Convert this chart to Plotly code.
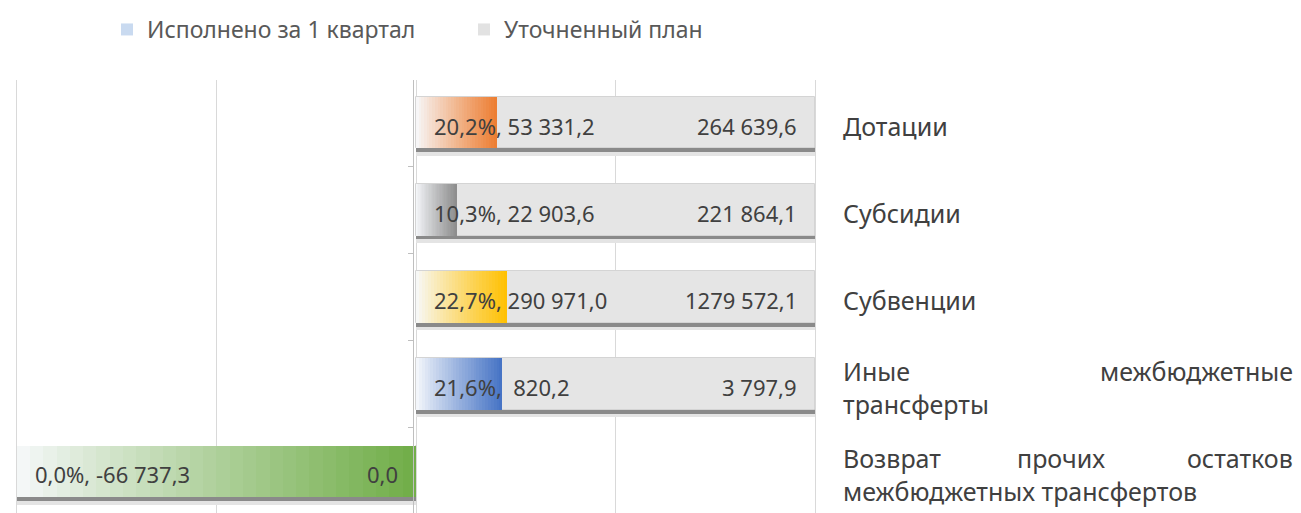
import plotly.graph_objects as go

# ---------------- data ----------------
categories = [
    ["Дотации"],
    ["Субсидии"],
    ["Субвенции"],
    ["Иные межбюджетные", "трансферты"],
    ["Возврат прочих остатков", "межбюджетных трансфертов"],
]
exec_share = [20.2, 10.3, 22.7, 21.6, -100.0]      # bar length, % of plan
plan_share = [100.0, 100.0, 100.0, 100.0, 0.0]
exec_pct_labels = ["20,2%", "10,3%", "22,7%", "21,6%", "0,0%"]
exec_amounts = ["53 331,2", "22 903,6", "290 971,0", " 820,2", "-66 737,3"]
plan_amounts = ["264 639,6", "221 864,1", "1279 572,1", "3 797,9", "0,0"]
bar_colors = ["#ED7D31", "#8C8C8C", "#FFC000", "#4472C4", "#70AD47"]
legend_names = ["Исполнено за 1 квартал", "Уточненный план"]

# ---------------- layout constants ----------------
OFF = 8                      # page body margin
W, H = 1301 - OFF, 513 - OFF

def rx(p):                   # reference pixel -> figure pixel
    return p - OFF

ML = rx(15)
MT = rx(76)
MR = W - rx(817)
MB = 0
PW = W - ML - MR
PH = H - MT - MB
CAT_PX = 88.0
FONT = "Noto Sans"
TXT = "#404040"

def xp(p):                   # reference pixel -> paper x
    return (rx(p) - ML) / PW

ypos = list(range(len(categories)))
y_top = -(rx(119) - MT) / CAT_PX
y_bot = y_top + PH / CAT_PX
BW = 0.59
LBL_SHIFT = -3               # text sits slightly below bar centre

def hex2rgb(h):
    h = h.lstrip("#")
    return tuple(int(h[i:i + 2], 16) for i in (0, 2, 4))

def mix(c1, c2, t):
    a, b = hex2rgb(c1), hex2rgb(c2)
    return "rgb(%d,%d,%d)" % tuple(round(a[i] + (b[i] - a[i]) * t) for i in range(3))

fig = go.Figure()

# shadows under bars
lo = [min(0, e, p) for e, p in zip(exec_share, plan_share)]
hi = [max(0, e, p) for e, p in zip(exec_share, plan_share)]
for col, shift in (("#e4e4e4", 7.5), ("#8a8a8a", 4.0)):
    fig.add_trace(go.Bar(
        y=ypos, x=[h - l for l, h in zip(lo, hi)], base=lo, orientation="h",
        width=BW, offset=-BW / 2 + shift / CAT_PX,
        marker=dict(color=col, line=dict(width=0)),
        showlegend=False, hoverinfo="skip"))

# plan bars
fig.add_trace(go.Bar(
    y=ypos, x=plan_share, orientation="h", width=BW, offset=-BW / 2,
    marker=dict(color="#E5E5E5", line=dict(color="#D4D4D4", width=1)),
    name=legend_names[1], showlegend=False, hoverinfo="skip"))

# executed bars as gradient segments
N = 30
seg_y, seg_x, seg_base, seg_col = [], [], [], []
for i, v in enumerate(exec_share):
    start = min(0, v)
    w = abs(v) / N
    for k in range(N):
        t = ((k + 0.5) / N) ** 0.9
        seg_y.append(i)
        seg_x.append(w * 1.02)
        seg_base.append(start + k * w)
        seg_col.append(mix("#F7F9FC", bar_colors[i], t))
fig.add_trace(go.Bar(
    y=seg_y, x=seg_x, base=seg_base, orientation="h", width=BW, offset=-BW / 2,
    marker=dict(color=seg_col, line=dict(width=0)),
    showlegend=False, hoverinfo="skip"))

# legend entries
fig.add_trace(go.Bar(y=[None], x=[None], orientation="h", name=legend_names[0],
                     marker=dict(color="#C9DAF0", line=dict(width=0))))
fig.add_trace(go.Bar(y=[None], x=[None], orientation="h", name=legend_names[1],
                     marker=dict(color="#E2E2E2", line=dict(width=0))))

VFS = 22
annotations = []
# value labels
for i in range(len(categories)):
    annotations.append(dict(
        x=min(0, exec_share[i]), y=i, xref="x", yref="y",
        text=f"{exec_pct_labels[i]}, {exec_amounts[i]}".replace("  ", "\u00a0\u00a0"),
        xanchor="left", yanchor="middle", xshift=16, yshift=LBL_SHIFT, showarrow=False,
        font=dict(family=FONT, size=VFS, color=TXT)))
    annotations.append(dict(
        x=plan_share[i], y=i, xref="x", yref="y", text=plan_amounts[i],
        xanchor="right", yanchor="middle", xshift=-16, yshift=LBL_SHIFT, showarrow=False,
        font=dict(family=FONT, size=VFS, color=TXT)))

# category labels (justified on the right)
CL, CR = 841, 1295
CFS = 25
LINE = 33
for i, lines in enumerate(categories):
    n = len(lines)
    for j, line in enumerate(lines):
        yshift = LBL_SHIFT - ((j - (n - 1) / 2) * LINE)
        words = line.split(" ")
        if n > 1 and j < n - 1 and len(words) > 1:
            est = [len(wd) * CFS * 0.6 for wd in words]
            gap = (CR - CL - sum(est)) / (len(words) - 1)
            xcur = CL
            for k, wd in enumerate(words):
                if k == 0:
                    xx, anc = CL, "left"
                elif k == len(words) - 1:
                    xx, anc = CR, "right"
                else:
                    xx, anc = xcur + est[k] / 2, "center"
                xcur += est[k] + gap
                annotations.append(dict(
                    x=xp(xx), y=i, xref="paper", yref="y", text=wd,
                    xanchor=anc, yanchor="middle", yshift=yshift, showarrow=False,
                    font=dict(family=FONT, size=CFS, color=TXT)))
        else:
            annotations.append(dict(
                x=xp(CL), y=i, xref="paper", yref="y", text=line,
                xanchor="left", yanchor="middle", yshift=yshift, showarrow=False,
                font=dict(family=FONT, size=CFS, color=TXT)))

fig.update_layout(
    width=W, height=H,
    margin=dict(l=ML, r=MR, t=MT, b=MB, pad=0),
    paper_bgcolor="white", plot_bgcolor="white",
    barmode="overlay", bargap=0,
    font=dict(family=FONT, color=TXT),
    showlegend=True,
    legend=dict(orientation="h", x=xp(107), y=1 + (MT - rx(25)) / PH,
                xanchor="left", yanchor="middle",
                font=dict(family=FONT, size=23, color="#595959"),
                itemwidth=30, entrywidth=312, entrywidthmode="pixels",
                traceorder="normal", bgcolor="rgba(0,0,0,0)"),
    xaxis=dict(range=[-100.4, 100.4], tickvals=[-100, -50, 0, 50, 100],
               showticklabels=False, showgrid=True, gridcolor="#D9D9D9",
               gridwidth=1, zeroline=False, showline=False, ticks=""),
    yaxis=dict(range=[y_bot, y_top], anchor="free", position=xp(413),
               showline=True, linecolor="#BFBFBF", linewidth=1,
               ticks="outside", ticklen=5, tickcolor="#BFBFBF",
               tickvals=[k - 0.5 for k in range(len(categories) + 1)],
               showticklabels=False, showgrid=False, zeroline=False),
    annotations=annotations,
)

fig.write_html("out.html")
